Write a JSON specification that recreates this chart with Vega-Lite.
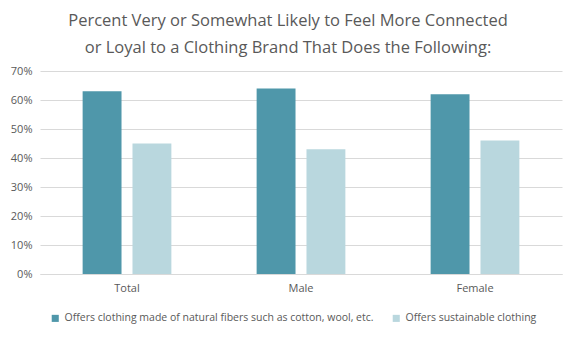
{
  "$schema": "https://vega.github.io/schema/vega-lite/v6.json",
  "width": 522,
  "height": 203,
  "autosize": {"type": "none"},
  "padding": {"left": 40, "top": 71, "right": 14, "bottom": 63},
  "background": "white",
  "title": {
    "text": ["Percent Very or Somewhat Likely to Feel More Connected", "or Loyal to a Clothing Brand That Does the Following:"],
    "font": "Open Sans",
    "fontSize": 16.5,
    "fontWeight": "normal",
    "color": "#595959",
    "anchor": "middle",
    "frame": "group",
    "lineHeight": 27,
    "offset": 9,
    "dx": -13
  },
  "data": {
    "values": [
      {"group": "Total", "series": "Offers clothing made of natural fibers such as cotton, wool, etc.", "value": 63},
      {"group": "Total", "series": "Offers sustainable clothing", "value": 45},
      {"group": "Male", "series": "Offers clothing made of natural fibers such as cotton, wool, etc.", "value": 64},
      {"group": "Male", "series": "Offers sustainable clothing", "value": 43},
      {"group": "Female", "series": "Offers clothing made of natural fibers such as cotton, wool, etc.", "value": 62},
      {"group": "Female", "series": "Offers sustainable clothing", "value": 46}
    ]
  },
  "mark": {"type": "bar"},
  "encoding": {
    "x": {
      "field": "group", "type": "nominal", "sort": ["Total", "Male", "Female"],
      "scale": {"paddingInner": 0.49, "paddingOuter": 0.245},
      "axis": {"title": null, "labelAngle": 0, "ticks": false, "domainColor": "#D9D9D9", "labelColor": "#595959", "labelFont": "Open Sans", "labelFontSize": 11, "labelPadding": 8}
    },
    "xOffset": {
      "field": "series", "type": "nominal",
      "scale": {"paddingInner": 0.22, "paddingOuter": 0}
    },
    "y": {
      "field": "value", "type": "quantitative",
      "scale": {"domain": [0, 70]},
      "axis": {"title": null, "values": [0,10,20,30,40,50,60,70], "labelExpr": "datum.value + '%'", "domain": false, "ticks": false, "gridColor": "#D9D9D9", "labelColor": "#595959", "labelFont": "Open Sans", "labelFontSize": 11, "labelPadding": 8}
    },
    "color": {
      "field": "series", "type": "nominal",
      "scale": {"range": ["#4F97AA", "#B9D7DE"]},
      "legend": {
        "title": null, "orient": "none", "direction": "horizontal",
        "legendX": 10, "legendY": 242,
        "symbolType": "square", "symbolSize": 50, "symbolStrokeWidth": 0,
        "labelFont": "Open Sans", "labelFontSize": 10.5, "labelColor": "#595959",
        "labelOffset": 4,
        "columnPadding": 17, "labelLimit": 400
      }
    }
  },
  "config": {"view": {"stroke": null}}
}
